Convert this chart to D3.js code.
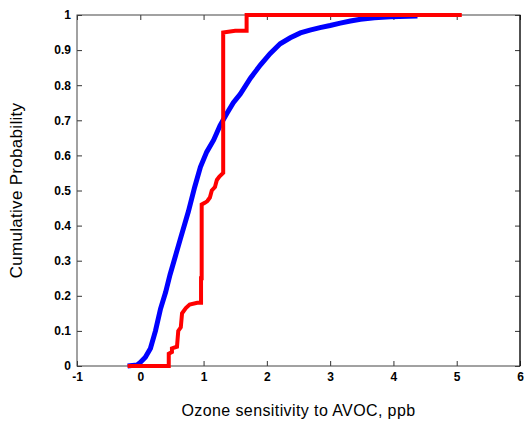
<!DOCTYPE html>
<html>
<head>
<meta charset="utf-8">
<script src="https://cdn.jsdelivr.net/npm/d3@7"></script>
<style>
  body { margin: 0; background: #fff; }
  svg { display: block; font-family: "Liberation Sans", Arial, sans-serif; }
  .tick line { stroke: #333; }
</style>
</head>
<body>
<div id="chart"></div>
<script>
// values (x in ppb, cumulative probability)
const blueX = [-0.2, -0.05, 0, 0.08, 0.16, 0.24, 0.32, 0.4, 0.47, 0.55, 0.63, 0.76, 0.86, 0.95, 1.05, 1.16, 1.26, 1.37, 1.47, 1.58, 1.74, 1.9, 2.05, 2.21, 2.37, 2.53, 2.68, 2.84, 3.0, 3.16, 3.32, 3.48, 3.7, 3.95, 4.38];
const blueP = [0, 0.003, 0.01, 0.025, 0.05, 0.1, 0.163, 0.21, 0.26, 0.31, 0.36, 0.44, 0.51, 0.567, 0.61, 0.644, 0.685, 0.72, 0.75, 0.775, 0.82, 0.858, 0.89, 0.918, 0.935, 0.949, 0.957, 0.964, 0.97, 0.977, 0.983, 0.988, 0.992, 0.995, 0.997];

const redX = [-0.2, 0.45, 0.45, 0.5, 0.5, 0.58, 0.6, 0.64, 0.66, 0.72, 0.78, 0.9, 0.96, 0.96, 0.97, 0.97, 1.02, 1.06, 1.1, 1.13, 1.18, 1.21, 1.25, 1.31, 1.31, 1.5, 1.68, 1.68, 5.08];
const redP = [0, 0, 0.035, 0.04, 0.05, 0.055, 0.1, 0.11, 0.15, 0.165, 0.175, 0.18, 0.18, 0.25, 0.25, 0.46, 0.465, 0.47, 0.48, 0.5, 0.51, 0.53, 0.54, 0.55, 0.95, 0.955, 0.955, 1, 1];

const xTicks = [-1, 0, 1, 2, 3, 4, 5, 6];
const yTicks = [0, 0.1, 0.2, 0.3, 0.4, 0.5, 0.6, 0.7, 0.8, 0.9, 1];

const W = 524, H = 424;
const margin = { top: 15, right: 4, bottom: 58, left: 77 };
const width = W - margin.left - margin.right;
const height = H - margin.top - margin.bottom;

const svg = d3.select("#chart").append("svg")
  .attr("width", W)
  .attr("height", H);

const g = svg.append("g")
  .attr("transform", `translate(${margin.left},${margin.top})`);

const x = d3.scaleLinear().domain([-1, 6]).range([0, width]);
const y = d3.scaleLinear().domain([0, 1]).range([height, 0]);

// bold tick labels, set on the axis group so the text inherits them
const styleLabels = a => a
  .attr("font-size", 12)
  .attr("font-weight", "bold")
  .attr("font-family", "Arial, 'Liberation Sans', sans-serif")
  .selectAll("text").attr("fill", "#000");

// axes with inward ticks
g.append("g")
  .attr("transform", `translate(0,${height})`)
  .call(d3.axisBottom(x).tickValues(xTicks).tickFormat(d => String(d))
    .tickSizeInner(-5).tickSizeOuter(0).tickPadding(6))
  .call(a => a.select(".domain").remove())
  .call(styleLabels);

g.append("g")
  .call(d3.axisLeft(y).tickValues(yTicks).tickFormat(d => d === 0 || d === 1 ? String(d) : d3.format(".1f")(d))
    .tickSizeInner(-5).tickSizeOuter(0).tickPadding(6))
  .call(a => a.select(".domain").remove())
  .call(styleLabels);

g.append("g")
  .call(d3.axisTop(x).tickValues(xTicks).tickFormat("").tickSizeInner(-5).tickSizeOuter(0))
  .call(a => a.select(".domain").remove());

g.append("g")
  .attr("transform", `translate(${width},0)`)
  .call(d3.axisRight(y).tickValues(yTicks).tickFormat("").tickSizeInner(-5).tickSizeOuter(0))
  .call(a => a.select(".domain").remove());

// frame
g.append("rect")
  .attr("x", 0).attr("y", 0)
  .attr("width", width).attr("height", height)
  .attr("fill", "none")
  .attr("stroke", "#444")
  .attr("stroke-width", 1);

g.append("line")
  .attr("x1", width).attr("x2", width)
  .attr("y1", 0).attr("y2", height)
  .attr("stroke", "#000");

const line = d3.line()
  .x(d => x(d[0]))
  .y(d => y(d[1]));

g.append("path")
  .datum(blueX.map((v, i) => [v, blueP[i]]))
  .attr("d", line)
  .attr("fill", "none")
  .attr("stroke", "#0000ff")
  .attr("stroke-width", 5);

g.append("path")
  .datum(redX.map((v, i) => [v, redP[i]]))
  .attr("d", line)
  .attr("fill", "none")
  .attr("stroke", "#ff0000")
  .attr("stroke-width", 4);

// axis titles
svg.append("text")
  .attr("x", margin.left + width / 2)
  .attr("y", 416)
  .attr("text-anchor", "middle")
  .style("font-size", "16px")
  .style("letter-spacing", "0.4px")
  .text("Ozone sensitivity to AVOC, ppb");

svg.append("text")
  .attr("transform", `translate(22,${margin.top + height / 2}) rotate(-90)`)
  .attr("text-anchor", "middle")
  .style("font-size", "17px")
  .style("letter-spacing", "0.3px")
  .text("Cumulative Probability");
</script>
</body>
</html>
